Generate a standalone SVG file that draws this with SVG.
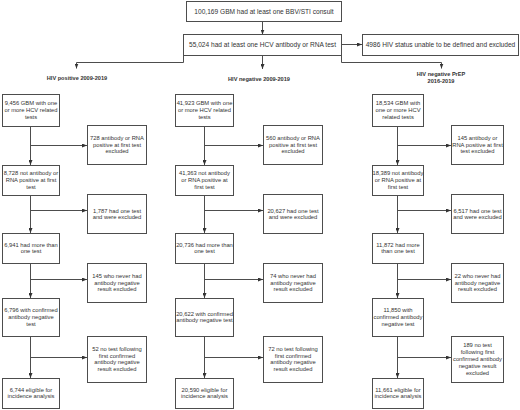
<svg xmlns="http://www.w3.org/2000/svg" width="520" height="410" viewBox="0 0 520 410">
<style>
.box{fill:#fff;stroke:#4d4d4d;stroke-width:1}
.t{font-family:"Liberation Sans",Arial,sans-serif;font-size:5.8px;fill:#333;text-anchor:middle}
.tl{font-family:"Liberation Sans",Arial,sans-serif;font-size:6.6px;fill:#333;text-anchor:middle}
.h{font-family:"Liberation Sans",Arial,sans-serif;font-size:5.6px;font-weight:bold;fill:#333;text-anchor:middle}
.c{fill:none;stroke:#4d4d4d;stroke-width:1;marker-end:url(#ah)}
</style>
<defs>
<marker id="ah" markerUnits="userSpaceOnUse" markerWidth="5" markerHeight="4" viewBox="0 0 5 4" refX="5" refY="2" orient="auto">
<path d="M0,0 L5,2 L0,4 z" fill="#333"/>
</marker>
</defs>
<rect width="520" height="410" fill="#fff"/>
<g id="connectors">
<path class="c" d="M262.5,21.5 V34.5"/>
<path class="c" d="M341.5,44.5 H362"/>
<path class="c" d="M183.5,55.5 V62.5 H76.5 V68.5"/>
<path class="c" d="M262.5,55.5 V69"/>
<path class="c" d="M341.5,55.5 V62.5 H441.5 V68.5"/>
<!-- left column -->
<path class="c" d="M30.5,126.5 V165"/>
<path class="c" d="M30.5,145.5 H87"/>
<path class="c" d="M30.5,195.5 V233"/>
<path class="c" d="M30.5,210.5 H87"/>
<path class="c" d="M30.5,263.5 V298"/>
<path class="c" d="M30.5,279.5 H87"/>
<path class="c" d="M30.5,336.5 V378"/>
<path class="c" d="M30.5,357.5 H87"/>
<!-- middle column -->
<path class="c" d="M204.5,126.5 V165"/>
<path class="c" d="M204.5,145.5 H263"/>
<path class="c" d="M204.5,195.5 V233"/>
<path class="c" d="M204.5,210.5 H263"/>
<path class="c" d="M204.5,263.5 V298"/>
<path class="c" d="M204.5,279.5 H263"/>
<path class="c" d="M204.5,336.5 V378"/>
<path class="c" d="M204.5,357.5 H263"/>
<!-- right column -->
<path class="c" d="M397.5,126.5 V165"/>
<path class="c" d="M397.5,145.5 H451"/>
<path class="c" d="M397.5,195.5 V233"/>
<path class="c" d="M397.5,210.5 H451"/>
<path class="c" d="M397.5,263.5 V298"/>
<path class="c" d="M397.5,279.5 H451"/>
<path class="c" d="M397.5,336.5 V378"/>
<path class="c" d="M397.5,357.5 H451"/>
</g>

<g id="top">
<rect class="box" x="186.5" y="1.5" width="155" height="20"/>
<text class="tl" x="264" y="13.8">100,169 GBM had at least one BBV/STI consult</text>
</g>
<g id="hcvtest">
<rect class="box" x="183.5" y="34.5" width="158" height="21"/>
<text class="tl" x="262.5" y="46.8">55,024 had at least one HCV antibody or RNA test</text>
</g>
<g id="hivundef">
<rect class="box" x="362.5" y="34.5" width="156" height="21"/>
<text class="tl" x="440.5" y="46.8">4986 HIV status unable to be defined and excluded</text>
</g>

<g id="hdr-pos"><text class="h" x="77" y="80">HIV positive 2009-2019</text></g>
<g id="hdr-neg"><text class="h" x="259" y="81">HIV negative 2009-2019</text></g>
<g id="hdr-prep"><text class="h" x="441" y="76">HIV negative PrEP<tspan x="441" dy="7">2016-2019</tspan></text></g>

<!-- LEFT COLUMN -->
<g id="L1"><rect class="box" x="2.5" y="94.5" width="57" height="32"/>
<text class="t" x="31" y="105.2">9,456 GBM with one<tspan x="31" dy="6.8">or more HCV related</tspan><tspan x="31" dy="6.8">tests</tspan></text></g>
<g id="LE1"><rect class="box" x="87.5" y="125.5" width="59" height="39"/>
<text class="t" x="117" y="139.7">728 antibody or RNA<tspan x="117" dy="6.8">positive at first test</tspan><tspan x="117" dy="6.8">excluded</tspan></text></g>
<g id="L2"><rect class="box" x="2.5" y="165.5" width="57" height="30"/>
<text class="t" x="31" y="175.2">8,728 not antibody or<tspan x="31" dy="6.8">RNA positive at first</tspan><tspan x="31" dy="6.8">test</tspan></text></g>
<g id="LE2"><rect class="box" x="87.5" y="194.5" width="59" height="39"/>
<text class="t" x="117" y="212.6">1,787 had one test<tspan x="117" dy="6.8">and were excluded</tspan></text></g>
<g id="L3"><rect class="box" x="2.5" y="233.5" width="57" height="30"/>
<text class="t" x="31" y="246.6">6,941 had more than<tspan x="31" dy="6.8">one test</tspan></text></g>
<g id="LE3"><rect class="box" x="87.5" y="263.5" width="59" height="39"/>
<text class="t" x="117" y="277.7">145 who never had<tspan x="117" dy="6.8">antibody negative</tspan><tspan x="117" dy="6.8">result excluded</tspan></text></g>
<g id="L4"><rect class="box" x="2.5" y="298.5" width="57" height="38"/>
<text class="t" x="31" y="312.2">6,796 with confirmed<tspan x="31" dy="6.8">antibody negative</tspan><tspan x="31" dy="6.8">test</tspan></text></g>
<g id="LE4"><rect class="box" x="87.5" y="336.5" width="59" height="46"/>
<text class="t" x="117" y="350.8">52 no test following<tspan x="117" dy="6.8">first confirmed</tspan><tspan x="117" dy="6.8">antibody negative</tspan><tspan x="117" dy="6.8">result excluded</tspan></text></g>
<g id="L5"><rect class="box" x="2.5" y="378.5" width="57" height="30"/>
<text class="t" x="31" y="391.6">6,744 eligible for<tspan x="31" dy="6.8">incidence analysis</tspan></text></g>

<!-- MIDDLE COLUMN -->
<g id="M1"><rect class="box" x="175.5" y="94.5" width="58" height="32"/>
<text class="t" x="204.5" y="105.2">41,923 GBM with one<tspan x="204.5" dy="6.8">or more HCV related</tspan><tspan x="204.5" dy="6.8">tests</tspan></text></g>
<g id="ME1"><rect class="box" x="263.5" y="125.5" width="59" height="39"/>
<text class="t" x="293" y="139.7">560 antibody or RNA<tspan x="293" dy="6.8">positive at first test</tspan><tspan x="293" dy="6.8">excluded</tspan></text></g>
<g id="M2"><rect class="box" x="175.5" y="165.5" width="58" height="30"/>
<text class="t" x="204.5" y="175.2">41,363 not antibody<tspan x="204.5" dy="6.8">or RNA positive at</tspan><tspan x="204.5" dy="6.8">first test</tspan></text></g>
<g id="ME2"><rect class="box" x="263.5" y="194.5" width="59" height="39"/>
<text class="t" x="293" y="212.6">20,627 had one test<tspan x="293" dy="6.8">and were excluded</tspan></text></g>
<g id="M3"><rect class="box" x="175.5" y="233.5" width="58" height="30"/>
<text class="t" x="204.5" y="246.6">20,736 had more than<tspan x="204.5" dy="6.8">one test</tspan></text></g>
<g id="ME3"><rect class="box" x="263.5" y="263.5" width="59" height="39"/>
<text class="t" x="293" y="277.7">74 who never had<tspan x="293" dy="6.8">antibody negative</tspan><tspan x="293" dy="6.8">result excluded</tspan></text></g>
<g id="M4"><rect class="box" x="175.5" y="298.5" width="58" height="38"/>
<text class="t" x="204.5" y="315.6">20,622 with confirmed<tspan x="204.5" dy="6.8">antibody negative test</tspan></text></g>
<g id="ME4"><rect class="box" x="263.5" y="336.5" width="59" height="46"/>
<text class="t" x="293" y="350.8">72 no test following<tspan x="293" dy="6.8">first confirmed</tspan><tspan x="293" dy="6.8">antibody negative</tspan><tspan x="293" dy="6.8">result excluded</tspan></text></g>
<g id="M5"><rect class="box" x="175.5" y="378.5" width="58" height="30"/>
<text class="t" x="204.5" y="391.6">20,590 eligible for<tspan x="204.5" dy="6.8">incidence analysis</tspan></text></g>

<!-- RIGHT COLUMN -->
<g id="R1"><rect class="box" x="372.5" y="94.5" width="51" height="32"/>
<text class="t" x="398" y="105.2">18,534 GBM with<tspan x="398" dy="6.8">one or more HCV</tspan><tspan x="398" dy="6.8">related tests</tspan></text></g>
<g id="RE1"><rect class="box" x="451.5" y="125.5" width="52" height="39"/>
<text class="t" x="477.5" y="139.7">145 antibody or<tspan x="477.5" dy="6.8">RNA positive at first</tspan><tspan x="477.5" dy="6.8">test excluded</tspan></text></g>
<g id="R2"><rect class="box" x="372.5" y="165.5" width="51" height="30"/>
<text class="t" x="398" y="175.2">18,389 not antibody<tspan x="398" dy="6.8">or RNA positive at</tspan><tspan x="398" dy="6.8">first test</tspan></text></g>
<g id="RE2"><rect class="box" x="451.5" y="194.5" width="52" height="39"/>
<text class="t" x="477.5" y="212.6">6,517 had one test<tspan x="477.5" dy="6.8">and were excluded</tspan></text></g>
<g id="R3"><rect class="box" x="372.5" y="233.5" width="51" height="30"/>
<text class="t" x="398" y="246.6">11,872 had more<tspan x="398" dy="6.8">than one test</tspan></text></g>
<g id="RE3"><rect class="box" x="451.5" y="263.5" width="52" height="39"/>
<text class="t" x="477.5" y="277.7">22 who never had<tspan x="477.5" dy="6.8">antibody negative</tspan><tspan x="477.5" dy="6.8">result excluded</tspan></text></g>
<g id="R4"><rect class="box" x="372.5" y="298.5" width="51" height="38"/>
<text class="t" x="398" y="312.2">11,850 with<tspan x="398" dy="6.8">confirmed antibody</tspan><tspan x="398" dy="6.8">negative test</tspan></text></g>
<g id="RE4"><rect class="box" x="451.5" y="336.5" width="52" height="46"/>
<text class="t" x="477.5" y="347.4">189 no test<tspan x="477.5" dy="6.8">following first</tspan><tspan x="477.5" dy="6.8">confirmed antibody</tspan><tspan x="477.5" dy="6.8">negative result</tspan><tspan x="477.5" dy="6.8">excluded</tspan></text></g>
<g id="R5"><rect class="box" x="372.5" y="378.5" width="51" height="30"/>
<text class="t" x="398" y="391.6">11,661 eligible for<tspan x="398" dy="6.8">incidence analysis</tspan></text></g>
</svg>
